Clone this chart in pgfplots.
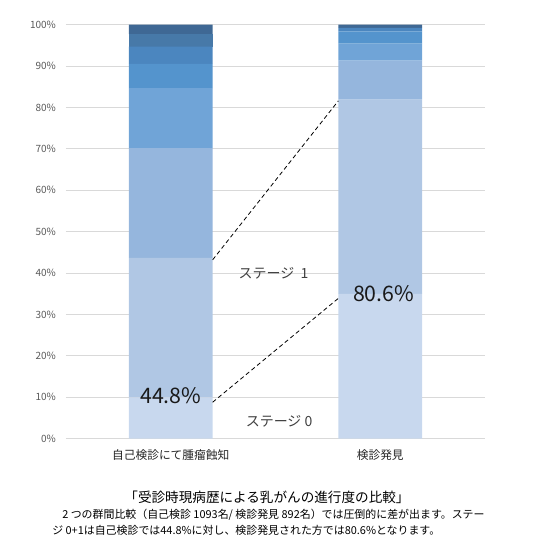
\documentclass[border=0pt]{standalone}
\usepackage{fontspec}
\setmainfont{Noto Sans CJK JP}
\usepackage{pgfplots}
\pgfplotsset{compat=1.18}

\definecolor{gridgray}{HTML}{D9D9D9}
\definecolor{ticktext}{HTML}{595959}
\definecolor{sA}{HTML}{C8D8EE}
\definecolor{sB}{HTML}{B0C7E4}
\definecolor{sC}{HTML}{95B6DD}
\definecolor{sD}{HTML}{70A4D7}
\definecolor{sE}{HTML}{5494CD}
\definecolor{sF}{HTML}{4B86BF}
\definecolor{sG}{HTML}{4779A8}
\definecolor{sH}{HTML}{3F6894}

\begin{document}
\begin{tikzpicture}
\path[use as bounding box] (0,0) rectangle (400.5pt,-417.75pt);

\begin{axis}[
    at={(49.5pt,-18.5pt)}, anchor=north west,
    scale only axis,
    width=314.25pt, height=310.5pt,
    ybar stacked, bar width=0.4,
    xmin=-0.5, xmax=1.5,
    ymin=0, ymax=100,
    xtick={0,1},
    xticklabels={自己検診にて腫瘤蝕知, 検診発見},
    ytick={0,10,...,100},
    yticklabel={\pgfmathprintnumber{\tick}\%},
    /pgf/number format/assume math mode=true,
    axis line style={draw=none},
    tick style={draw=none},
    ymajorgrids,
    grid style={color=gridgray, line width=0.75pt},
    yticklabel style={font=\fontsize{7.5}{9}\selectfont, text=ticktext, xshift=-4pt},
    xticklabel style={font=\fontsize{8.8}{10}\selectfont, text=black!85, yshift=-5pt},
    every axis plot/.append style={draw=none},
]
\addplot[fill=sA] coordinates {(0,10.0) (1,35.0)};
\addplot[fill=sB] coordinates {(0,33.7) (1,46.9)};
\addplot[fill=sC] coordinates {(0,26.5) (1,9.4)};
\addplot[fill=sD] coordinates {(0,14.5) (1,4.1)};
\addplot[fill=sE] coordinates {(0,5.8) (1,3.0)};
\addplot[fill=sF] coordinates {(0,4.2) (1,0.8)};
\addplot[fill=sG] coordinates {(0,3.0) (1,0.0)};
\addplot[fill=sH] coordinates {(0,2.3) (1,0.8)};
\end{axis}

\begin{axis}[
    at={(49.5pt,-18.5pt)}, anchor=north west,
    scale only axis,
    width=314.25pt, height=310.5pt,
    xmin=-0.5, xmax=1.5,
    ymin=0, ymax=100,
    hide axis,
    clip=false,
]
\addplot[black, line width=0.6pt, dash pattern=on 3.2pt off 2.2pt] coordinates {(0.2,43.2) (0.8,81.6)};
\addplot[black, line width=0.6pt, dash pattern=on 3.2pt off 2.2pt] coordinates {(0.2,8.8) (0.8,33.9)};
\node[font=\fontsize{16}{17}\selectfont, text=black!90] at (axis cs:0,10.4) {44.8\%};
\node[font=\fontsize{16}{17}\selectfont, text=black!90] at (axis cs:1.016,35.1) {80.6\%};
\node[font=\fontsize{10.5}{12}\selectfont, text=black!75] at (axis cs:0.49,40.0) {ステージ\ \ 1};
\node[font=\fontsize{10.5}{12}\selectfont, text=black!75] at (axis cs:0.517,4.1) {ステージ 0};
\end{axis}

\node[font=\fontsize{10.2}{12}\selectfont] at (200.25pt,-372.75pt) {「受診時現病歴による乳がんの進行度の比較」};
\node[font=\fontsize{8.2}{10}\selectfont, anchor=west, inner sep=0pt] at (46.5pt,-386.25pt) {2 つの群間比較（自己検診 1093名/ 検診発見 892名）では圧倒的に差が出ます。ステー};
\node[font=\fontsize{8.2}{10}\selectfont, anchor=west, inner sep=0pt] at (39pt,-397.5pt) {ジ 0+1は自己検診では44.8\%に対し、検診発見された方では80.6\%となります。};
\end{tikzpicture}
\end{document}
